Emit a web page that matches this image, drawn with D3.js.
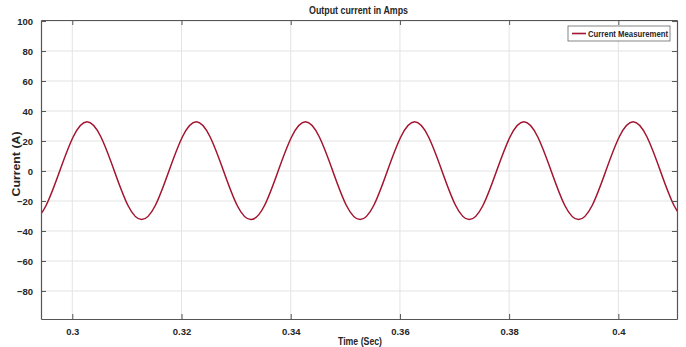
<!DOCTYPE html>
<html>
<head>
<meta charset="utf-8">
<script src="https://cdn.jsdelivr.net/npm/d3@7"></script>
<style>
  body { margin: 0; background: #fff; }
  text { font-family: "Liberation Sans", Arial, sans-serif; font-weight: bold; fill: #262626; }
</style>
</head>
<body>
<div id="chart"></div>
<script>
const FRAME_WIDTH = 686;
const FRAME_HEIGHT = 347;
const MARGINS = {left: 41, right: 9, top: 20, bottom: 28};

const TIME = [0.2877, 0.2902, 0.2927, 0.2952, 0.2977, 0.3002, 0.3027, 0.3052, 0.3077, 0.3102, 0.3127, 0.3152,
  0.3177, 0.3202, 0.3227, 0.3252, 0.3277, 0.3302, 0.3327, 0.3352, 0.3377, 0.3402,
  0.3427, 0.3452, 0.3477, 0.3502, 0.3527, 0.3552, 0.3577, 0.3602, 0.3627, 0.3652,
  0.3677, 0.3702, 0.3727, 0.3752, 0.3777, 0.3802, 0.3827, 0.3852, 0.3877, 0.3902,
  0.3927, 0.3952, 0.3977, 0.4002, 0.4027, 0.4052, 0.4077, 0.4102, 0.4127, 0.4152, 0.4177];
const CURRENT = [0, -23, -32.5, -23, 0, 23, 32.8, 23, 0, -23, -32.4, -23,
  0, 23, 32.8, 23, 0, -23, -32.4, -23, 0, 23,
  32.8, 23, 0, -23, -32.4, -23, 0, 23, 32.8, 23,
  0, -23, -32.4, -23, 0, 23, 32.8, 23, 0, -23,
  -32.4, -23, 0, 23, 32.8, 23, 0, -23, -32.4, -23, 0];

const X_TICKS = [0.3, 0.32, 0.34, 0.36, 0.38, 0.4];
const Y_TICKS = [-80, -60, -40, -20, 0, 20, 40, 60, 80, 100];
const X_DOMAIN = [0.29427, 0.41074];
const Y_DOMAIN = [-98.7, 100.7];

const VIS_WIDTH = FRAME_WIDTH - MARGINS.left - MARGINS.right;
const VIS_HEIGHT = FRAME_HEIGHT - MARGINS.top - MARGINS.bottom;

const svg = d3.select("#chart")
  .append("svg")
    .attr("width", FRAME_WIDTH)
    .attr("height", FRAME_HEIGHT);

const x = d3.scaleLinear().domain(X_DOMAIN).range([MARGINS.left, MARGINS.left + VIS_WIDTH]);
const y = d3.scaleLinear().domain(Y_DOMAIN).range([MARGINS.top + VIS_HEIGHT, MARGINS.top]);

// grid
svg.append("g")
  .selectAll("line")
  .data(X_TICKS)
  .enter().append("line")
    .attr("x1", d => x(d)).attr("x2", d => x(d))
    .attr("y1", MARGINS.top).attr("y2", MARGINS.top + VIS_HEIGHT)
    .attr("stroke", "#e3e3e3").attr("stroke-width", 1);

svg.append("g")
  .selectAll("line")
  .data(Y_TICKS)
  .enter().append("line")
    .attr("x1", MARGINS.left).attr("x2", MARGINS.left + VIS_WIDTH)
    .attr("y1", d => y(d)).attr("y2", d => y(d))
    .attr("stroke", "#e3e3e3").attr("stroke-width", 1);

// curve
svg.append("clipPath").attr("id", "clip")
  .append("rect")
    .attr("x", MARGINS.left).attr("y", MARGINS.top)
    .attr("width", VIS_WIDTH).attr("height", VIS_HEIGHT);

const line = d3.line()
  .x((d, i) => x(TIME[i]))
  .y(d => y(d))
  .curve(d3.curveNatural);

svg.append("path")
  .datum(CURRENT)
  .attr("clip-path", "url(#clip)")
  .attr("d", line)
  .attr("fill", "none")
  .attr("stroke", "#A2142F")
  .attr("stroke-width", 1.5);

// axes (ticks pointing inward, MATLAB box style)
function styleAxis(g) {
  g.select(".domain").attr("stroke", "#555").attr("stroke-width", 1.2);
  g.selectAll(".tick line").attr("stroke", "#555");
  g.selectAll("text").style("font-size", "9.5px").attr("fill", "#262626");
}

svg.append("g")
  .attr("transform", "translate(0," + (MARGINS.top + VIS_HEIGHT) + ")")
  .call(d3.axisBottom(x).tickValues(X_TICKS).tickFormat(d3.format("")).tickSizeInner(-5).tickSizeOuter(0).tickPadding(9))
  .call(styleAxis);

svg.append("g")
  .attr("transform", "translate(" + MARGINS.left + ",0)")
  .call(d3.axisLeft(y).tickValues(Y_TICKS).tickSizeInner(-5).tickSizeOuter(0).tickPadding(8))
  .call(styleAxis);

svg.append("g")
  .attr("transform", "translate(0," + MARGINS.top + ")")
  .call(d3.axisTop(x).tickValues(X_TICKS).tickFormat("").tickSizeInner(-5).tickSizeOuter(0))
  .call(styleAxis);

svg.append("g")
  .attr("transform", "translate(" + (MARGINS.left + VIS_WIDTH) + ",0)")
  .call(d3.axisRight(y).tickValues(Y_TICKS).tickFormat("").tickSizeInner(-5).tickSizeOuter(0))
  .call(styleAxis);

// title and labels
svg.append("text")
  .attr("x", 358.5).attr("y", 14)
  .attr("text-anchor", "middle")
  .attr("textLength", 99).attr("lengthAdjust", "spacingAndGlyphs")
  .style("font-size", "10px")
  .text("Output current in Amps");

svg.append("text")
  .attr("x", 360).attr("y", 345)
  .attr("text-anchor", "middle")
  .attr("textLength", 44).attr("lengthAdjust", "spacingAndGlyphs")
  .style("font-size", "10px")
  .text("Time (Sec)");

svg.append("text")
  .attr("transform", "translate(20,164) rotate(-90)")
  .attr("text-anchor", "middle")
  .attr("textLength", 65).attr("lengthAdjust", "spacingAndGlyphs")
  .style("font-size", "10px")
  .text("Current (A)");

// legend
const legend = svg.append("g").attr("transform", "translate(568,26)");
legend.append("rect")
  .attr("width", 102).attr("height", 15)
  .attr("fill", "#fff").attr("stroke", "#666").attr("stroke-width", 0.8);
legend.append("line")
  .attr("x1", 4).attr("x2", 18).attr("y1", 7.5).attr("y2", 7.5)
  .attr("stroke", "#A2142F").attr("stroke-width", 1.6);
legend.append("text")
  .attr("x", 20).attr("y", 11)
  .attr("textLength", 80).attr("lengthAdjust", "spacingAndGlyphs")
  .style("font-size", "9.5px")
  .text("Current Measurement");
</script>
</body>
</html>
